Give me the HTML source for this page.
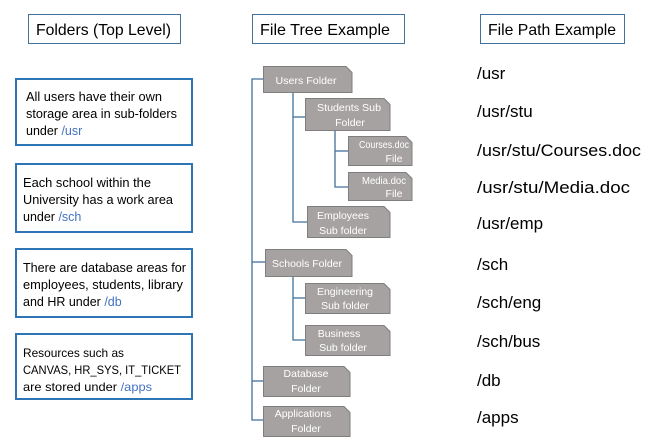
<!DOCTYPE html>
<html><head><meta charset="utf-8"><style>
body{margin:0;background:#fff}
svg{display:block;font-family:"Liberation Sans",sans-serif}
</style></head><body>
<svg width="668" height="448" viewBox="0 0 668 448" xmlns="http://www.w3.org/2000/svg">
<g fill="#fff" stroke="#41719c" stroke-width="1">
<rect x="28.5" y="14.5" width="152" height="29"/>
<rect x="252.5" y="14.5" width="152" height="29"/>
<rect x="480.5" y="14.5" width="144" height="29"/>
</g>
<g font-size="16" fill="#000">
<text x="36" y="35" textLength="135" lengthAdjust="spacingAndGlyphs">Folders (Top Level)</text>
<text x="260" y="35" textLength="130" lengthAdjust="spacingAndGlyphs">File Tree Example</text>
<text x="488" y="35" textLength="128" lengthAdjust="spacingAndGlyphs">File Path Example</text>
</g>
<g fill="#fff" stroke="#2e75b6" stroke-width="2">
<rect x="16" y="79" width="176" height="66"/>
<rect x="16" y="164" width="176" height="68"/>
<rect x="16" y="249" width="176" height="68"/>
<rect x="16" y="334" width="176" height="65"/>
</g>
<g font-size="12.5" fill="#000">
<text x="26" y="101" textLength="136" lengthAdjust="spacingAndGlyphs">All users have their own</text>
<text x="26" y="118" textLength="151" lengthAdjust="spacingAndGlyphs">storage area in sub-folders</text>
<text x="26" y="135">under <tspan fill="#4472c4">/usr</tspan></text>
<text x="23" y="187" textLength="128" lengthAdjust="spacingAndGlyphs">Each school within the</text>
<text x="23" y="204" textLength="150" lengthAdjust="spacingAndGlyphs">University has a work area</text>
<text x="23" y="221">under <tspan fill="#4472c4">/sch</tspan></text>
<text x="23" y="272" textLength="163" lengthAdjust="spacingAndGlyphs">There are database areas for</text>
<text x="23" y="289" textLength="160" lengthAdjust="spacingAndGlyphs">employees, students, library</text>
<text x="23" y="306">and HR under <tspan fill="#4472c4">/db</tspan></text>
</g>
<g font-size="12" fill="#000">
<text x="23" y="357" textLength="101" lengthAdjust="spacingAndGlyphs">Resources such as</text>
<text x="23" y="374" textLength="158" lengthAdjust="spacingAndGlyphs">CANVAS, HR_SYS, IT_TICKET</text>
<text x="23" y="391" textLength="129" lengthAdjust="spacingAndGlyphs">are stored under <tspan fill="#4472c4">/apps</tspan></text>
</g>
<g fill="none" stroke="#41719c" stroke-width="1.3">
<path d="M263 79H252V420H263"/>
<path d="M252 262H265"/>
<path d="M252 381H263"/>
<path d="M293 92V222H307"/>
<path d="M293 117H305"/>
<path d="M335 130V187H348"/>
<path d="M335 151H348"/>
<path d="M293 276V340H305"/>
<path d="M293 298H305"/>
</g>
<g fill="#a6a2a2" stroke="#7f7f7f" stroke-width="1">
<path d="M263.5 66.5H346l6 6V92.5H263.5Z"/>
<path d="M305.5 98.5H384l6 6V130.5H305.5Z"/>
<path d="M348.5 136.5H406l6 6V165.5H348.5Z"/>
<path d="M348.5 172.5H406l6 6V200.5H348.5Z"/>
<path d="M307.5 206.5H384l6 6V237.5H307.5Z"/>
<path d="M265.5 249.5H346l6 6V276.5H265.5Z"/>
<path d="M305.5 283.5H384l6 6V313.5H305.5Z"/>
<path d="M305.5 325.5H384l6 6V355.5H305.5Z"/>
<path d="M263.5 366.5H344l6 6V396.5H263.5Z"/>
<path d="M263.5 406.5H344l6 6V436.5H263.5Z"/>
</g>
<g font-size="10.5" fill="#fff" text-anchor="middle">
<text x="306" y="84" textLength="61" lengthAdjust="spacingAndGlyphs">Users Folder</text>
<text x="349" y="111" textLength="64" lengthAdjust="spacingAndGlyphs">Students Sub</text><text x="350" y="126">Folder</text>
<text x="384" y="148" textLength="50" lengthAdjust="spacingAndGlyphs">Courses.doc</text><text x="394" y="162">File</text>
<text x="384" y="184" textLength="44" lengthAdjust="spacingAndGlyphs">Media.doc</text><text x="394" y="197">File</text>
<text x="343" y="219">Employees</text><text x="343" y="234">Sub folder</text>
<text x="307" y="267" textLength="70" lengthAdjust="spacingAndGlyphs">Schools Folder</text>
<text x="345" y="295">Engineering</text><text x="345" y="309">Sub folder</text>
<text x="339" y="337">Business</text><text x="343" y="351">Sub folder</text>
<text x="306" y="377">Database</text><text x="306" y="392">Folder</text>
<text x="303" y="417">Applications</text><text x="306" y="432">Folder</text>
</g>
<g font-size="17" fill="#000">
<text x="477" y="79">/usr</text>
<text x="477" y="117">/usr/stu</text>
<text x="477" y="156" textLength="164" lengthAdjust="spacingAndGlyphs">/usr/stu/Courses.doc</text>
<text x="477" y="193" textLength="153" lengthAdjust="spacingAndGlyphs">/usr/stu/Media.doc</text>
<text x="477" y="229">/usr/emp</text>
<text x="477" y="270">/sch</text>
<text x="477" y="308">/sch/eng</text>
<text x="477" y="347">/sch/bus</text>
<text x="477" y="386">/db</text>
<text x="477" y="423">/apps</text>
</g>
</svg>
</body></html>
